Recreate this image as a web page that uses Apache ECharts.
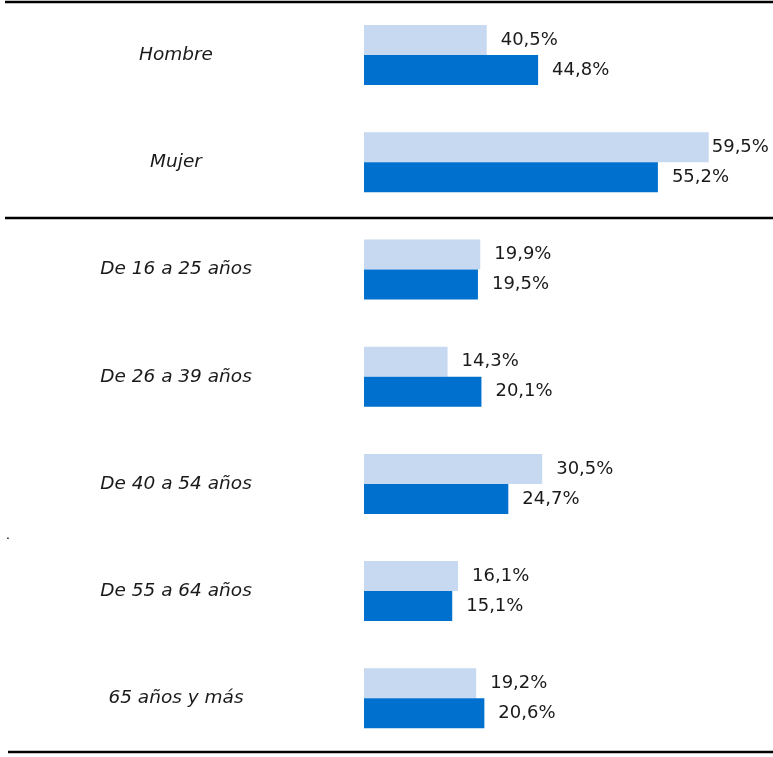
<!DOCTYPE html>
<html>
<head>
<meta charset="utf-8">
<script src="https://cdn.jsdelivr.net/npm/echarts@6/dist/echarts.min.js"></script>
<style>
  html, body { margin: 0; padding: 0; background: #fff; }
  #chart { width: 773px; height: 757px; }
</style>
</head>
<body>
<div id="chart"></div>
<script>
// categorias (de arriba a abajo)
const categories = ["Hombre", "Mujer", "De 16 a 25 años", "De 26 a 39 años", "De 40 a 54 años", "De 55 a 64 años", "65 años y más"];

// porcentajes impresos en las etiquetas
const labelLight = [40.5, 59.5, 19.9, 14.3, 30.5, 16.1, 19.2];
const labelDark = [44.8, 55.2, 19.5, 20.1, 24.7, 15.1, 20.6];

// longitud de las barras tal como aparecen dibujadas (en sexo no coinciden con la etiqueta)
const barLight = [21.0, 59.0, 19.9, 14.3, 30.5, 16.1, 19.2];
const barDark = [29.8, 50.3, 19.5, 20.1, 24.7, 15.1, 20.6];

const fmt = v => v.toFixed(1).replace(".", ",") + "%";

let myChart = echarts.init(document.getElementById("chart"));

function makeData(bars, labels) {
  return bars.map((v, i) => {
    let item = { value: v };
    // la etiqueta de 59,5% esta pegada a la barra porque no cabe
    if (labels[i] === 59.5) item.label = { distance: 3 };
    return item;
  });
}

const labelStyle = {
  show: true,
  position: "right",
  distance: 14,
  color: "#1a1a1a",
  fontSize: 18,
  fontFamily: "DejaVu Sans"
};

let option = {
  animation: false,
  grid: {
    left: 364,
    right: 0,
    top: 1.5,
    height: 750.4
  },
  xAxis: {
    type: "value",
    min: 0,
    max: 70,
    show: false
  },
  yAxis: {
    type: "category",
    data: categories,
    inverse: true,
    axisLine: { show: false },
    axisTick: { show: false },
    splitLine: { show: false },
    axisLabel: {
      align: "center",
      margin: 188,
      color: "#1a1a1a",
      fontSize: 18.5,
      fontStyle: "italic",
      fontFamily: "DejaVu Sans",
      padding: [2, 0, 0, 0]
    }
  },
  series: [
    {
      name: "claro",
      type: "bar",
      barWidth: 30,
      barGap: "0%",
      itemStyle: { color: "#c6d9f0" },
      label: Object.assign({}, labelStyle, {
        formatter: p => fmt(labelLight[p.dataIndex])
      }),
      data: makeData(barLight, labelLight)
    },
    {
      name: "oscuro",
      type: "bar",
      barWidth: 30,
      barGap: "0%",
      itemStyle: { color: "#0070cf" },
      label: Object.assign({}, labelStyle, {
        formatter: p => fmt(labelDark[p.dataIndex])
      }),
      data: makeData(barDark, labelDark)
    }
  ],
  graphic: [
    { type: "line", shape: { x1: 5, y1: 2, x2: 773, y2: 2 }, style: { stroke: "#000", lineWidth: 2.5 } },
    { type: "line", shape: { x1: 5, y1: 218, x2: 773, y2: 218 }, style: { stroke: "#000", lineWidth: 2.5 } },
    { type: "line", shape: { x1: 8, y1: 752, x2: 773, y2: 752 }, style: { stroke: "#000", lineWidth: 2.5 } },
    { type: "text", left: 6, top: 528, style: { text: ".", fontSize: 14, fill: "#000" } }
  ]
};

myChart.setOption(option, true);
</script>
</body>
</html>
